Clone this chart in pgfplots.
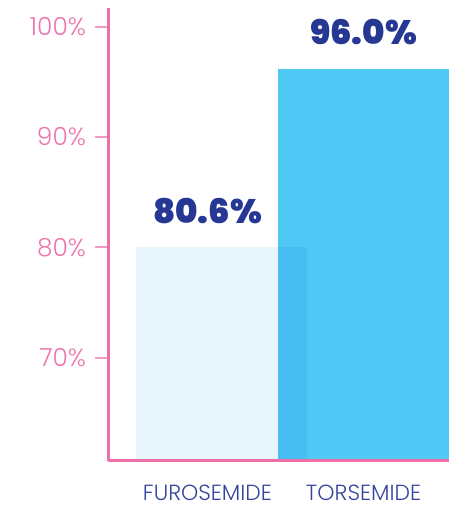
\documentclass[border=0pt]{standalone}
\usepackage{pgfplots}
\pgfplotsset{compat=1.18}
\usepackage{fontspec}
\setmainfont{Poppins}
\newfontfamily\lightfont{Poppins Light}
\newfontfamily\blackfont{Poppins Black}
\definecolor{pinkaxis}{HTML}{EE6EA8}
\definecolor{pinktick}{HTML}{F39AC4}
\definecolor{pinklabel}{HTML}{EF75AD}
\definecolor{navy}{HTML}{263893}
\definecolor{catlabel}{HTML}{34449C}
\definecolor{furo}{HTML}{E8F5FC}
\definecolor{tors}{HTML}{50C8F5}
\definecolor{overlap}{HTML}{45BDF0}
\begin{document}
\begin{tikzpicture}
\useasboundingbox (-108.5bp,-44.5bp) rectangle (356.5bp,460.5bp);
\begin{axis}[
  at={(0,0)}, anchor=south west,
  scale only axis, width=340.5bp, height=452.5bp,
  xmin=-0.796, xmax=1.602,
  ymin=60.67, ymax=101.7,
  axis on top,
  axis x line*=bottom, axis y line*=left,
  axis line style={-, pinkaxis, line width=2.4bp},
  ytick={70,80,90,100},
  yticklabels={70\%,80\%,90\%,100\%},
  xtick={-0.099,1},
  xticklabels={FUROSEMIDE,TORSEMIDE},
  x tick style={draw=none},
  y tick style={pinktick, line width=2bp},
  tick align=outside,
  major tick length=13bp,
  yticklabel style={font=\lightfont\fontsize{25}{25}\selectfont, text=pinklabel, xshift=-6bp},
  xticklabel style={font=\lightfont\fontsize{22}{22}\selectfont, text=catlabel, inner sep=0pt, text depth=0pt, anchor=north, yshift=-11bp},
  /pgf/number format/assume math mode=true,
  clip=true,
]
\addplot[ybar, bar shift=0pt, bar width=1.204, fill=furo, draw=none,
  nodes near coords={80.6\%},
  every node near coord/.append style={font=\blackfont\fontsize{34}{34}\selectfont, text=navy, anchor=center, yshift=36bp, xshift=-14bp}]
  coordinates {(0,80.0)};
\addplot[ybar, bar shift=0pt, bar width=1.204, fill=tors, draw=none,
  nodes near coords={96.0\%},
  every node near coord/.append style={font=\blackfont\fontsize{34}{34}\selectfont, text=navy, anchor=center, yshift=37bp}]
  coordinates {(1,96.2)};
\addplot[fill=overlap, draw=none] coordinates {(0.398,60) (0.398,80.0) (0.602,80.0) (0.602,60)} -- cycle;
\end{axis}
\end{tikzpicture}
\end{document}
